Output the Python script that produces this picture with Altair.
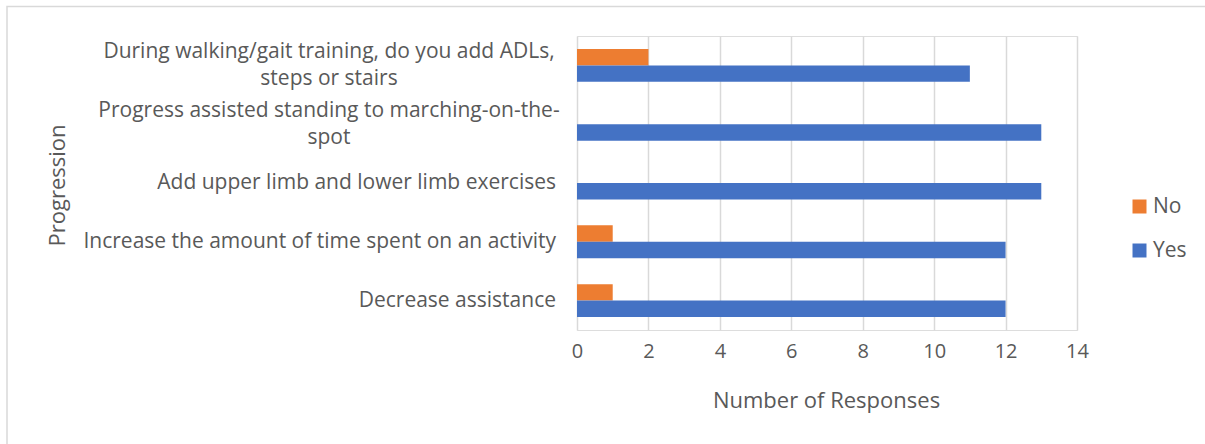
import altair as alt
import pandas as pd

categories = [
    "During walking/gait training, do you add ADLs, steps or stairs",
    "Progress assisted standing to marching-on-the-spot",
    "Add upper limb and lower limb exercises",
    "Increase the amount of time spent on an activity",
    "Decrease assistance",
]
label_text = [
    "During walking/gait training, do you add ADLs,|steps or stairs",
    "Progress assisted standing to marching-on-the-|spot",
    "Add upper limb and lower limb exercises",
    "Increase the amount of time spent on an activity",
    "Decrease assistance",
]
multi_line = [True, True, False, False, False]
yes_values = [11, 13, 13, 12, 12]
no_values = [2, 0, 0, 1, 1]
series = ["No", "Yes"]
colors = ["#ED7D31", "#4472C4"]
x_ticks = [0, 2, 4, 6, 8, 10, 12, 14]

rows = []
for c, n, y in zip(categories, no_values, yes_values):
    rows.append({"Progression": c, "Response": "No", "Count": n})
    rows.append({"Progression": c, "Response": "Yes", "Count": y})
df = pd.DataFrame(rows)
labels_df = pd.DataFrame({"Progression": categories, "label": label_text, "multi": multi_line})

FONT = "Open Sans"
TXT = "#595959"

y_scale = alt.Scale(domain=categories, paddingInner=0.44, paddingOuter=0.22)

bars = alt.Chart(df).mark_bar().encode(
    x=alt.X("Count:Q",
            scale=alt.Scale(domain=[0, 14], nice=False),
            axis=alt.Axis(values=x_ticks, title="Number of Responses", grid=True,
                          gridColor="#D9D9D9", gridWidth=1.5, domain=False, ticks=False,
                          labelFlush=False, labelOverlap=False,
                          labelFontSize=20, labelPadding=11, labelColor=TXT, labelFont=FONT,
                          titleFontSize=22, titleColor=TXT, titleFont=FONT, titleFontWeight="normal",
                          titleX=249, titleY=70, titleBaseline="middle")),
    y=alt.Y("Progression:N", scale=y_scale,
            axis=alt.Axis(labels=False, ticks=False, domain=False, grid=False,
                          title="Progression", titleFontSize=22, titleColor=TXT, titleFont=FONT,
                          titleFontWeight="normal", titleX=-520, titleY=149,
                          titleBaseline="middle", titleAlign="center", titleAngle=-90)),
    yOffset=alt.YOffset("Response:N", sort=series, scale=alt.Scale(paddingInner=0, paddingOuter=0)),
    color=alt.Color("Response:N",
                    scale=alt.Scale(domain=series, range=colors),
                    legend=alt.Legend(title=None, orient="none", legendX=552, legendY=160,
                                      symbolType="square", symbolSize=196, symbolStrokeWidth=0,
                                      labelFontSize=21, labelColor=TXT, labelFont=FONT,
                                      labelOffset=3, rowPadding=22)),
)

single = alt.Chart(labels_df).transform_filter("!datum.multi").mark_text(
    align="right", baseline="middle", fontSize=21, font=FONT, color=TXT
).encode(
    y=alt.Y("Progression:N", scale=y_scale),
    x=alt.value(-21),
    text="label:N",
)

multi = alt.Chart(labels_df).transform_filter("datum.multi").mark_text(
    align="center", baseline="middle", fontSize=21, font=FONT, color=TXT,
    lineBreak="|", lineHeight=27, dy=-13
).encode(
    y=alt.Y("Progression:N", scale=y_scale),
    x=alt.value(-248),
    text="label:N",
)

border = alt.Chart(alt.Data(values=[{}])).mark_rect(
    fill=None, stroke="#D9D9D9", strokeWidth=1.5
).encode(
    x=alt.value(-570), x2=alt.value(700),
    y=alt.value(-29.5), y2=alt.value(450),
)

chart = alt.layer(border, bars, single, multi).properties(
    width=500, height=294,
    autosize=alt.AutoSizeParams(type="none"),
    padding={"left": 577, "top": 36, "right": 128, "bottom": 114},
).configure_view(stroke=None).configure(background="white")

chart.save("out.html", embed_options={"renderer": "svg", "actions": False})
